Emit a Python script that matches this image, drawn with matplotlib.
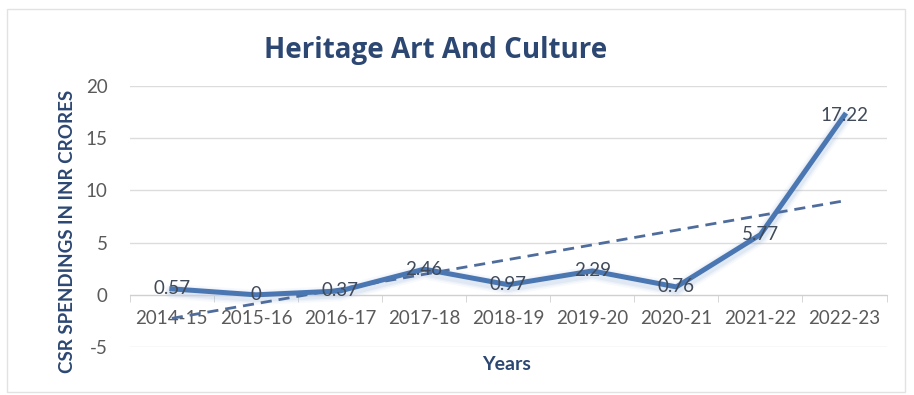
import numpy as np
import matplotlib
matplotlib.use("Agg")
import matplotlib.pyplot as plt
from matplotlib.patches import Rectangle

plt.rcParams['font.family'] = ['Lato', 'DejaVu Sans']

years = ["2014-15", "2015-16", "2016-17", "2017-18", "2018-19",
         "2019-20", "2020-21", "2021-22", "2022-23"]
spend = [0.57, 0, 0.37, 2.46, 0.97, 2.29, 0.76, 5.77, 17.22]
y_ticks = [-5, 0, 5, 10, 15, 20]

line_color = "#4a76b2"
title_color = "#2c4772"
text_color = "#404a58"
grid_color = "#dcdcdc"

fig = plt.figure(figsize=(9.14, 3.95), dpi=100)
fig.patches.append(Rectangle((0.008, 0.008), 0.982, 0.97, transform=fig.transFigure,
                             fill=False, edgecolor="#e2e2e2", linewidth=1.0))

ax = fig.add_axes([0.142, 0.1215, 0.828, 0.6605])
x = np.arange(len(years))

# linear trend
coef = np.polyfit(x, spend, 1)
ax.plot([x[0], x[-1]], np.polyval(coef, [x[0], x[-1]]), linestyle=(0, (4, 2.5)),
        color="#4f6d9c", linewidth=2.0, zorder=3)

# soft glow under the series line
for w, a in [(11, 0.06), (8.5, 0.08), (6.5, 0.12)]:
    ax.plot(x, np.array(spend) - 0.25, color="#7fa0cf", linewidth=w, alpha=a,
            solid_capstyle="round", solid_joinstyle="round", zorder=2)
ax.plot(x, spend, color=line_color, linewidth=3.6, solid_joinstyle="round", zorder=4)

for xi, v in zip(x, spend):
    ax.text(xi, v, f"{v:g}", ha="center", va="center", fontsize=13.5,
            color=text_color, zorder=5)

ax.set_xlim(-0.5, len(years) - 0.5)
ax.set_ylim(-5, 20)
ax.set_yticks(y_ticks)
ax.set_yticklabels([str(t) for t in y_ticks])
ax.set_xticks(x)
ax.set_xticklabels(years)
ax.set_xticks(np.arange(-0.5, len(years), 1), minor=True)

ax.grid(axis="y", color=grid_color, linewidth=1.0)
ax.set_axisbelow(True)
for s in ["top", "right", "left"]:
    ax.spines[s].set_visible(False)
ax.spines["bottom"].set_position(("data", 0))
ax.spines["bottom"].set_color("#d0d0d0")
ax.tick_params(axis="y", length=0, labelsize=13.5, labelcolor="#5a5a5a", pad=16)
ax.tick_params(axis="x", which="major", length=0, labelsize=13.5,
               labelcolor="#5a5a5a", pad=11)
ax.tick_params(axis="x", which="minor", length=5, color="#d0d0d0", direction="out")

fig.text(0.074, 0.413, "CSR SPENDINGS IN INR CRORES", rotation=90, ha="center",
         va="center", fontsize=13.5, fontweight="bold", color=title_color)
fig.text(0.554, 0.076, "Years", ha="center", va="center", fontsize=14,
         fontweight="bold", color=title_color)
fig.text(0.477, 0.873, "Heritage Art And Culture", ha="center", va="center",
         fontsize=20, fontweight="bold", color=title_color,
         family=['Open Sans', 'DejaVu Sans'])

fig.savefig("out.png", dpi=100)
